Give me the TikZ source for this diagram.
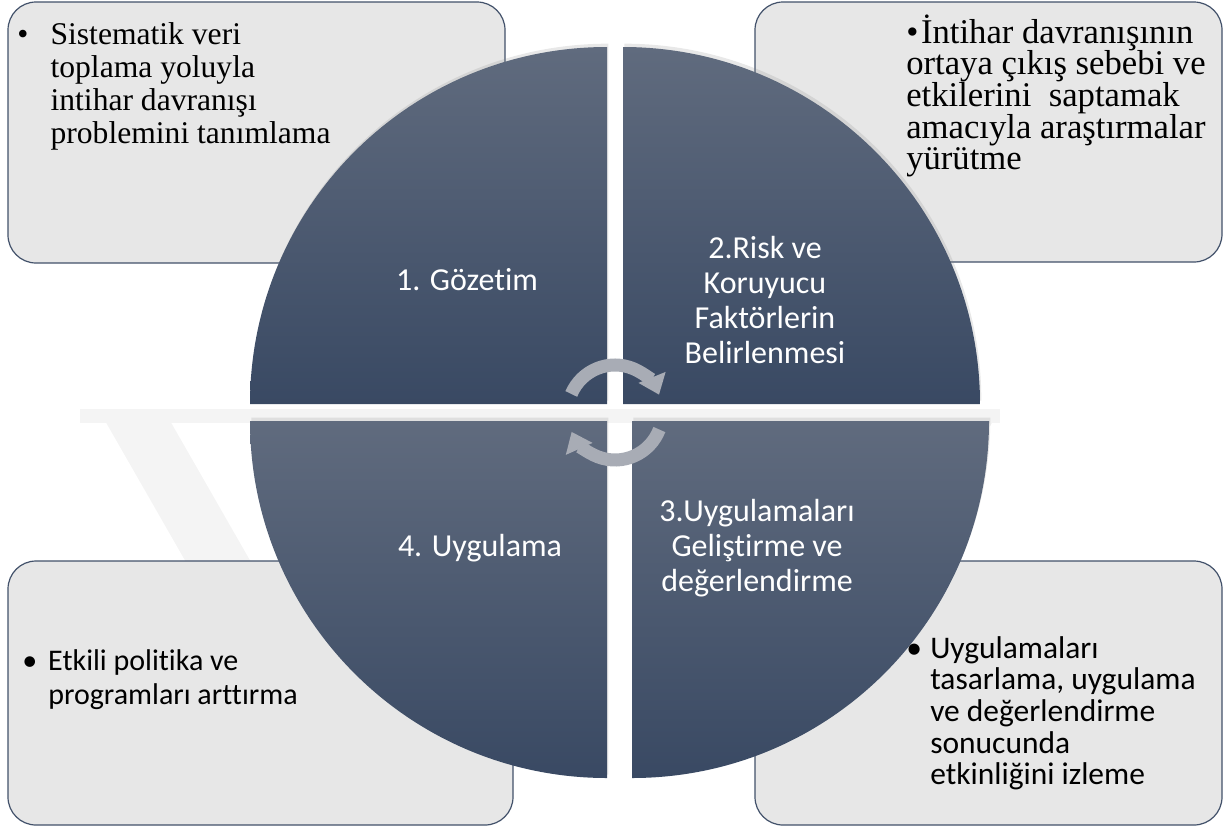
\documentclass[tikz,border=0pt]{standalone}
\usepackage{fontspec}
\setmainfont{Liberation Serif}
\newfontfamily\carlito{Carlito}[Ligatures=NoCommon]
\usepackage{tikz}
\usetikzlibrary{arrows.meta,shadows}

\begin{document}
\begin{tikzpicture}[x=0.75pt,y=0.75pt,yscale=-1,xscale=1,
  note box/.style={draw={rgb,255:red,66;green,81;blue,106},line width=0.9pt,rounded corners=21pt,fill={rgb,255:red,231;green,231;blue,231}},
  quarter/.style={top color={rgb,255:red,96;green,107;blue,126},bottom color={rgb,255:red,57;green,73;blue,99},
    drop shadow={shadow xshift=1pt,shadow yshift=2.5pt,opacity=0.18}},
  ring arrow/.style={draw={rgb,255:red,168;green,172;blue,181},line width=9.75pt,-{Triangle[width=21pt,length=14pt]}},
  serif note/.style={inner sep=0pt,anchor=base west,font=\fontsize{23.7}{24.75}\selectfont},
  sans note/.style={inner sep=0pt,anchor=base west,font=\carlito\fontsize{22.5}{26}\selectfont},
  step label/.style={inner sep=0pt,align=center,text=white,font=\carlito\fontsize{24}{26.25}\selectfont},
  mark band/.style={fill={rgb,255:red,244;green,244;blue,244}}
]
\useasboundingbox (0,0) rectangle (1227,829);

%Shape: watermark
\fill[mark band] (80,409) rectangle (1000,423);
\fill[mark band] (100,412) -- (165,412) -- (330,700) -- (265,700) -- cycle;
\fill[mark band] (935,412) -- (1000,412) -- (850,620) -- (785,620) -- cycle;

%Shape: note boxes
\draw[note box] (8,2) rectangle (505,263);
\draw[note box] (755,2) rectangle (1222,262);
\draw[note box] (8,561) rectangle (513,825);
\draw[note box] (755,561) rectangle (1222,825);

%Shape: quarter circles
\shade[quarter] (607,404) -- ++(-357,0) arc[start angle=180,end angle=270,radius=357] -- cycle;
\shade[quarter] (623,404) -- ++(0,-357) arc[start angle=270,end angle=360,radius=357] -- cycle;
\shade[quarter] (632,421) -- ++(357,0) arc[start angle=0,end angle=90,radius=357] -- cycle;
\shade[quarter] (607,421) -- ++(0,357) arc[start angle=90,end angle=180,radius=357] -- cycle;

%Shape: cycle arrows
\coordinate (hub) at (615,412.5);
\draw[ring arrow] (hub) ++(-157:47.5) arc[start angle=-157,end angle=-22,radius=47.5];
\draw[ring arrow] (hub) ++(21:47.5) arc[start angle=21,end angle=156,radius=47.5];

% Text Node
\node[step label] (surveil) at (467,280) {1. Gözetim};
% Text Node
\node[step label] (risk) at (765,300) {2.Risk ve\\Koruyucu\\Faktörlerin\\Belirlenmesi};
% Text Node
\node[step label] (develop) at (757,548) {3.Uygulamaları\\Geliştirme ve\\değerlendirme};
% Text Node
\node[step label] (apply) at (480,548) {4. Uygulama};

% Text Node
\node[serif note] (surveil note) at (17,44) {\parbox[t]{460pt}{\hangindent=25pt\hangafter=1\makebox[25pt][l]{\textbullet}Sistematik veri\newline toplama yoluyla\newline intihar davranışı\newline problemini tanımlama}};
% Text Node
\node[serif note,font=\fontsize{26}{23.8}\selectfont] (risk note) at (906,43) {\parbox[t]{300pt}{\textbullet\hspace{2pt}İntihar davranışının\newline ortaya çıkış sebebi ve\newline etkilerini\ \ saptamak\newline amacıyla araştırmalar\newline yürütme}};
% Text Node
\node[sans note] (apply note) at (22,670) {\parbox[t]{450pt}{\hangindent=19.5pt\hangafter=1\makebox[19.5pt][l]{\textbullet}Etkili politika ve\newline programları arttırma}};
% Text Node
\node[sans note,font=\carlito\fontsize{23.6}{23.8}\selectfont] (develop note) at (906,658) {\parbox[t]{300pt}{\hangindent=18pt\hangafter=1\makebox[18pt][l]{\textbullet}Uygulamaları\newline tasarlama, uygulama\newline ve değerlendirme\newline sonucunda\newline etkinliğini izleme}};

\end{tikzpicture}
\end{document}
